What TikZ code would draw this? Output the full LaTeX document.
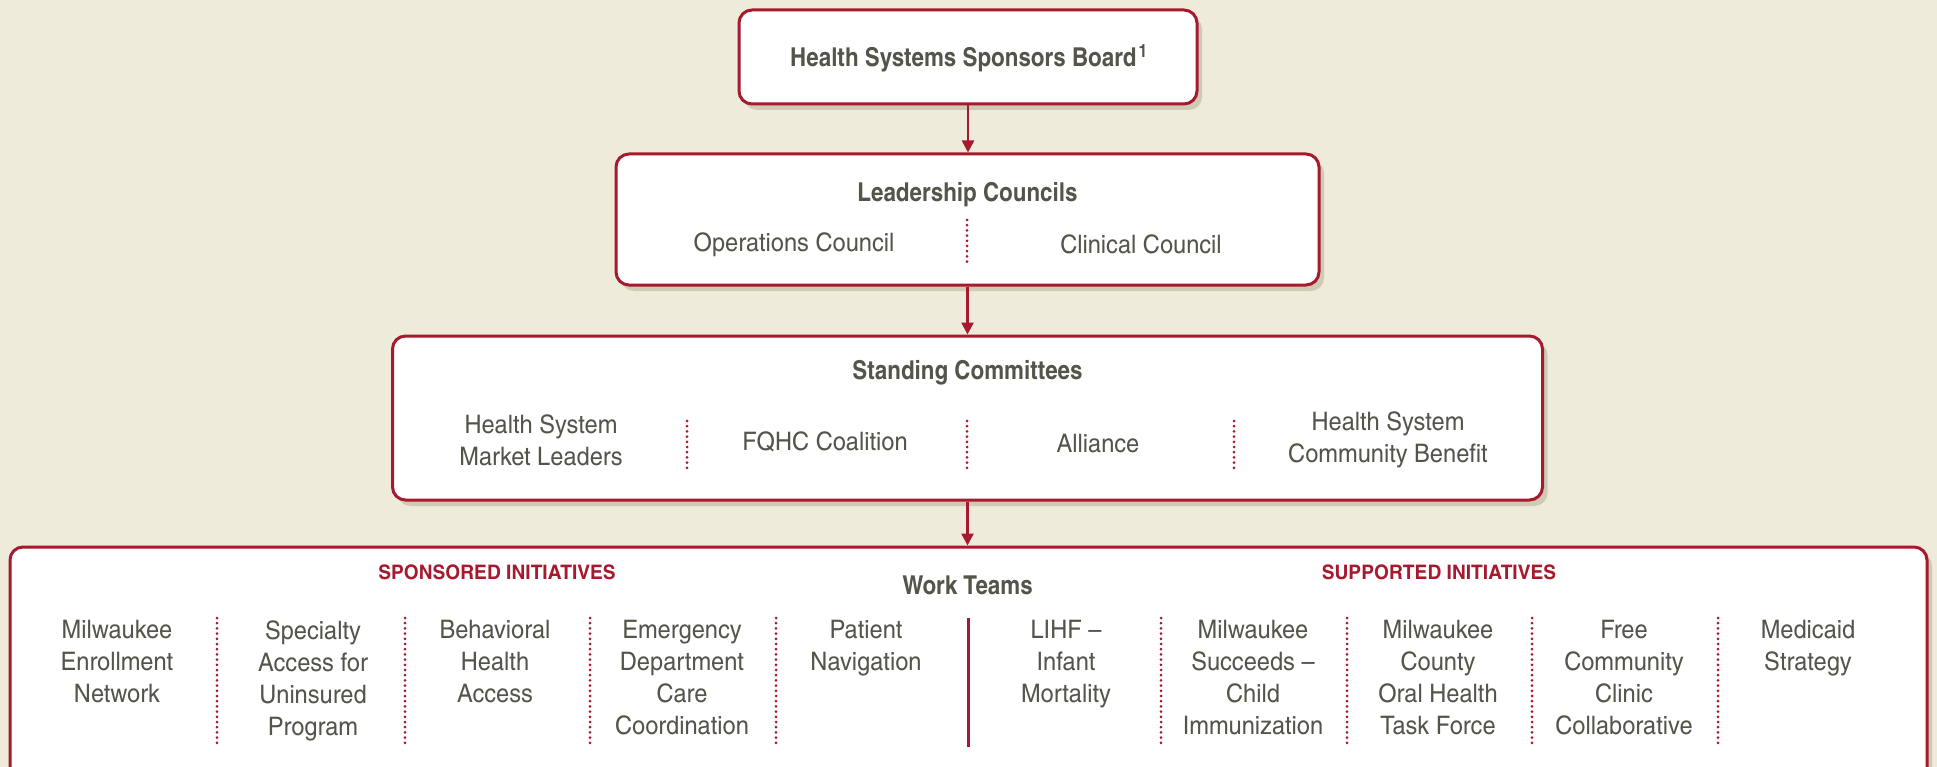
\documentclass[tikz,border=0pt]{standalone}
\usepackage{fontspec}
\setmainfont{texgyreheroscn}[Extension=.otf, UprightFont=*-regular, BoldFont=*-bold,
  UprightFeatures={FakeStretch=1.13}, BoldFeatures={FakeStretch=1.05}]
\newfontfamily\redfont{texgyreheroscn-bold.otf}[FakeStretch=1.17]
\usetikzlibrary{arrows.meta,shadows}
\definecolor{bg}{HTML}{EEEBDA}
\definecolor{txt}{HTML}{55544A}
\definecolor{rd}{HTML}{A6192E}
\definecolor{shd}{HTML}{C4C0A6}
\begin{document}
\begin{tikzpicture}[x=1pt,y=-1pt,
  box/.style={draw=rd, line width=3pt, fill=white, rounded corners=13pt,
    inner sep=0pt,
    drop shadow={shadow xshift=5pt, shadow yshift=-6pt, fill=shd, opacity=0.75}},
  lbl/.style={text=txt, font=\fontsize{25.5}{32}\selectfont, align=center, inner sep=0pt},
  hdr/.style={text=txt, font=\bfseries\fontsize{26}{30}\selectfont, inner sep=0pt},
  rhdr/.style={text=rd, font=\redfont\fontsize{20}{24}\selectfont, inner sep=0pt},
  arr/.style={draw=rd, line width=2.5pt, -{Triangle[length=12pt,width=12pt]}},
  dots/.style={draw=rd, line width=3pt, line cap=round, dash pattern=on 0pt off 5.2pt},
  solidsep/.style={draw=rd, line width=3pt}
]
\useasboundingbox (0,0) rectangle (1937,767);
\clip (0,0) rectangle (1937,767);
\fill[bg] (0,0) rectangle (1937,767);

% boxes
\node[box, minimum width=458pt, minimum height=94pt] (b1) at (968,57) {};
\node[box, minimum width=703pt, minimum height=131pt] (b2) at (967.5,219.5) {};
\node[box, minimum width=1150pt, minimum height=164pt] (b3) at (967.5,418) {};
\node[box, minimum width=1917pt, minimum height=270pt] (b4) at (968.5,682) {};

% arrows
\draw[arr] (b1.south) -- (b1.south |- b2.north);
\draw[arr] (b2.south) -- (b2.south |- b3.north);
\draw[arr] (b3.south) -- (b3.south |- b4.north);

% level 1
\node[hdr] (t1) at (969,58) {Health Systems Sponsors Board\kern2pt\textsuperscript{1}};

% level 2
\node[hdr] (t2) at (967.5,195) {Leadership Councils};
\node[lbl] (oc) at (794,245) {Operations Council};
\node[lbl] (cc) at (1141,244) {Clinical Council};
\draw[dots] (967,220) -- (967,266);

% level 3
\node[hdr] (t3) at (967.5,373) {Standing Committees};
\node[lbl] (s1) at (541,440) {Health System\\Market Leaders};
\node[lbl] (s2) at (825,442) {FQHC Coalition};
\node[lbl] (s3) at (1098,444) {Alliance};
\node[lbl] (s4) at (1388,440) {Health System\\Community Benefit};
\draw[dots] (687,421) -- (687,469);
\draw[dots] (967,421) -- (967,469);
\draw[dots] (1234,421) -- (1234,469);

% level 4
\node[rhdr] (sp) at (497,572) {SPONSORED INITIATIVES};
\node[rhdr] (su) at (1439,572) {SUPPORTED INITIATIVES};
\node[hdr] (t4) at (967.5,585) {Work Teams};

\node[lbl, anchor=north] (w1) at (117,620) {Milwaukee\\Enrollment\\Network};
\node[lbl, anchor=north] (w2) at (313,620) {Specialty\\Access for\\Uninsured\\Program};
\node[lbl, anchor=north] (w3) at (495,620) {Behavioral\\Health\\Access};
\node[lbl, anchor=north] (w4) at (682,620) {Emergency\\Department\\Care\\Coordination};
\node[lbl, anchor=north] (w5) at (866,620) {Patient\\Navigation};
\node[lbl, anchor=north] (w6) at (1066,620) {LIHF –\\Infant\\Mortality};
\node[lbl, anchor=north] (w7) at (1253,620) {Milwaukee\\Succeeds –\\Child\\Immunization};
\node[lbl, anchor=north] (w8) at (1438,620) {Milwaukee\\County\\Oral Health\\Task Force};
\node[lbl, anchor=north] (w9) at (1624,620) {Free\\Community\\Clinic\\Collaborative};
\node[lbl, anchor=north] (w10) at (1808,620) {Medicaid\\Strategy};

\foreach \xx in {217,405,590,776,1161,1347,1532,1718}
  \draw[dots] (\xx,618) -- (\xx,747);
\draw[solidsep] (968,618) -- (968,747);
\end{tikzpicture}
\end{document}
